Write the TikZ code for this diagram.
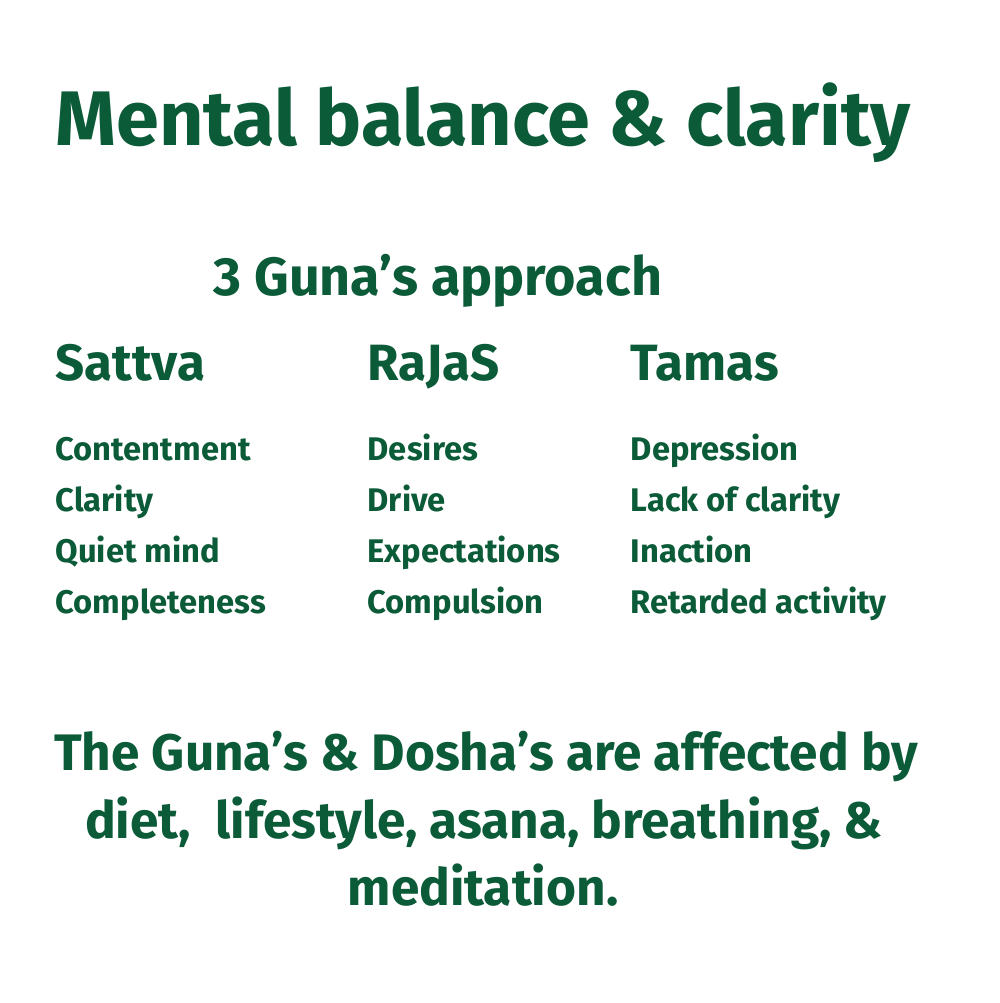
\documentclass[tikz,border=0pt]{standalone}
\usepackage{fontspec}
\setmainfont{Fira Sans}
\definecolor{gunagreen}{HTML}{0B5B38}
\begin{document}
\begin{tikzpicture}[x=0.01cm, y=-0.01cm]
\tikzset{every node/.style={text=gunagreen, inner sep=0pt, anchor=base west},
  titletext/.style={font=\bfseries\fontsize{22}{26}\selectfont},
  bigtext/.style={font=\bfseries\fontsize{15.3}{18}\selectfont},
  notetext/.style={font=\bfseries\fontsize{14.6}{18}\selectfont},
  headtext/.style={font=\bfseries\fontsize{14.5}{17}\selectfont},
  itemtext/.style={font=\bfseries\fontsize{9.3}{11}\selectfont}}
\useasboundingbox[fill=white] (0,0) rectangle (1000,1003);
\node[titletext] (title) at (55,145) {Mental balance \& clarity};
\node[bigtext] (approach) at (213,295) {3 Guna's approach};
% the three gunas
\foreach \col/\x/\hd/\items in {sattva/55/Sattva/{Contentment,Clarity,Quiet mind,Completeness},
    rajas/367/RaJaS/{Desires,Drive,Expectations,Compulsion},
    tamas/630/Tamas/{Depression,Lack of clarity,Inaction,Retarded activity}}{
  \node[headtext] (\col) at (\x,380) {\hd};
  \foreach \it [count=\i] in \items
    \node[itemtext] (\col-\i) at (\x,409+51*\i) {\it};
}
% bottom note
\node[notetext, anchor=base] (note1) at (486,770) {The Guna's \& Dosha's are affected by};
\node[notetext, anchor=base] (note2) at (484,838) {diet,\ \ lifestyle, asana, breathing, \&};
\node[notetext, anchor=base] (note3) at (483,905) {meditation.};
\end{tikzpicture}
\end{document}
